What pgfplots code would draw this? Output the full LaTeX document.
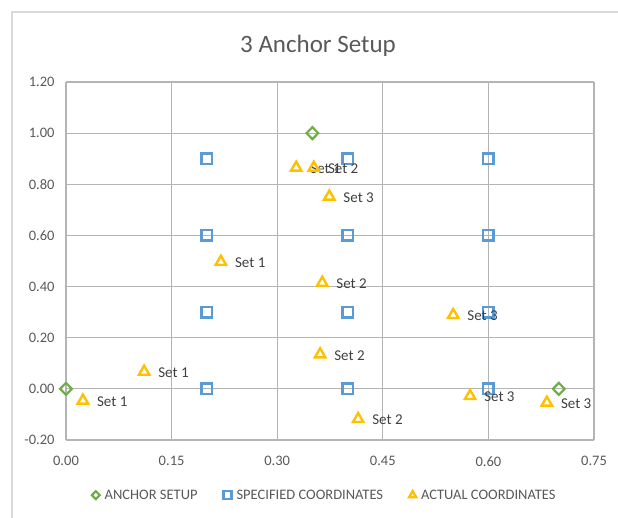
\documentclass[border=0pt]{standalone}
\usepackage{pgfplots}
\usepackage{pgfplotstable}
\pgfplotsset{compat=1.18}
\usepackage{fontspec}
\setmainfont{Carlito}

\definecolor{anchorgreen}{HTML}{70AD47}
\definecolor{specblue}{HTML}{5B9BD5}
\definecolor{actualgold}{HTML}{FFC000}
\definecolor{ticktext}{HTML}{595959}
\definecolor{labeltext}{HTML}{404040}
\definecolor{gridgray}{HTML}{B4B4B4}
\definecolor{framegray}{HTML}{D9D9D9}

% anchor positions
\pgfplotstableread{
x y
0 0
0.35 1.0
0.70 0
}\anchors

% target grid of coordinates
\pgfplotstableread{
x y
0.2 0.9
0.2 0.6
0.2 0.3
0.2 0.0
0.4 0.9
0.4 0.6
0.4 0.3
0.4 0.0
0.6 0.9
0.6 0.6
0.6 0.3
0.6 0.0
}\specified

% measured coordinates, tagged with their measurement set
\pgfplotstableread{
x y set
0.024 -0.046 1
0.111 0.067 1
0.220 0.497 1
0.327 0.865 1
0.352 0.865 2
0.364 0.415 2
0.361 0.135 2
0.415 -0.118 2
0.374 0.752 3
0.550 0.289 3
0.574 -0.028 3
0.683 -0.054 3
}\actual

\begin{document}
\begin{tikzpicture}[x=1pt,y=1pt]
\useasboundingbox (0,0) rectangle (618,517);
\draw[framegray, line width=1.3pt] (12,-20) rectangle (640,505);
\node[text=ticktext, font=\fontsize{25}{28}\selectfont] at (318,471) {3 Anchor Setup};
\begin{axis}[
  at={(66pt,77pt)}, anchor=south west,
  scale only axis, width=528pt, height=358pt,
  xmin=0, xmax=0.75, ymin=-0.2, ymax=1.2,
  xtick={0,0.15,...,0.76}, ytick={-0.2,0,...,1.21},
  grid=major,
  major grid style={gridgray, line width=1.2pt},
  axis line style={draw=none},
  major tick length=0pt,
  tick label style={text=ticktext, font=\fontsize{14.5}{16}\selectfont},
  /pgf/number format/assume math mode=true,
  /pgf/number format/.cd, fixed, fixed zerofill, precision=2, /tikz/.cd,
  xticklabel style={yshift=-13pt},
  yticklabel style={xshift=-8pt},
  clip=false,
  legend style={at={(0.49,-0.154)}, anchor=center, draw=none,
    legend columns=3, font=\fontsize{14.5}{16}\selectfont, text=ticktext,
    /tikz/every even column/.append style={column sep=24pt},
    /tikz/every odd column/.append style={column sep=3pt}},
  legend image code/.code={\draw[#1, mark size=4pt] plot coordinates {(0pt,0pt)};},
]
\addplot[only marks, mark=diamond, mark size=6pt,
  mark options={draw=anchorgreen, line width=2.2pt, fill=white, xscale=1.3}]
  table[x=x, y=y] {\anchors};
\addlegendentry{ANCHOR SETUP}
\addplot[only marks, mark=square, mark size=5.2pt,
  mark options={draw=specblue, line width=2.4pt, fill=white}]
  table[x=x, y=y] {\specified};
\addlegendentry{SPECIFIED COORDINATES}
\addplot[only marks, mark=triangle, mark size=6pt,
  mark options={draw=actualgold, line width=2.4pt, fill=white},
  point meta=explicit symbolic,
  nodes near coords={Set \pgfplotspointmeta},
  every node near coord/.append style={anchor=west, inner sep=0pt,
    xshift=13pt, yshift=-1pt, text=labeltext, font=\fontsize{15}{17}\selectfont}]
  table[x=x, y=y, meta=set] {\actual};
\addlegendentry{ACTUAL COORDINATES}
\end{axis}
\end{tikzpicture}
\end{document}
